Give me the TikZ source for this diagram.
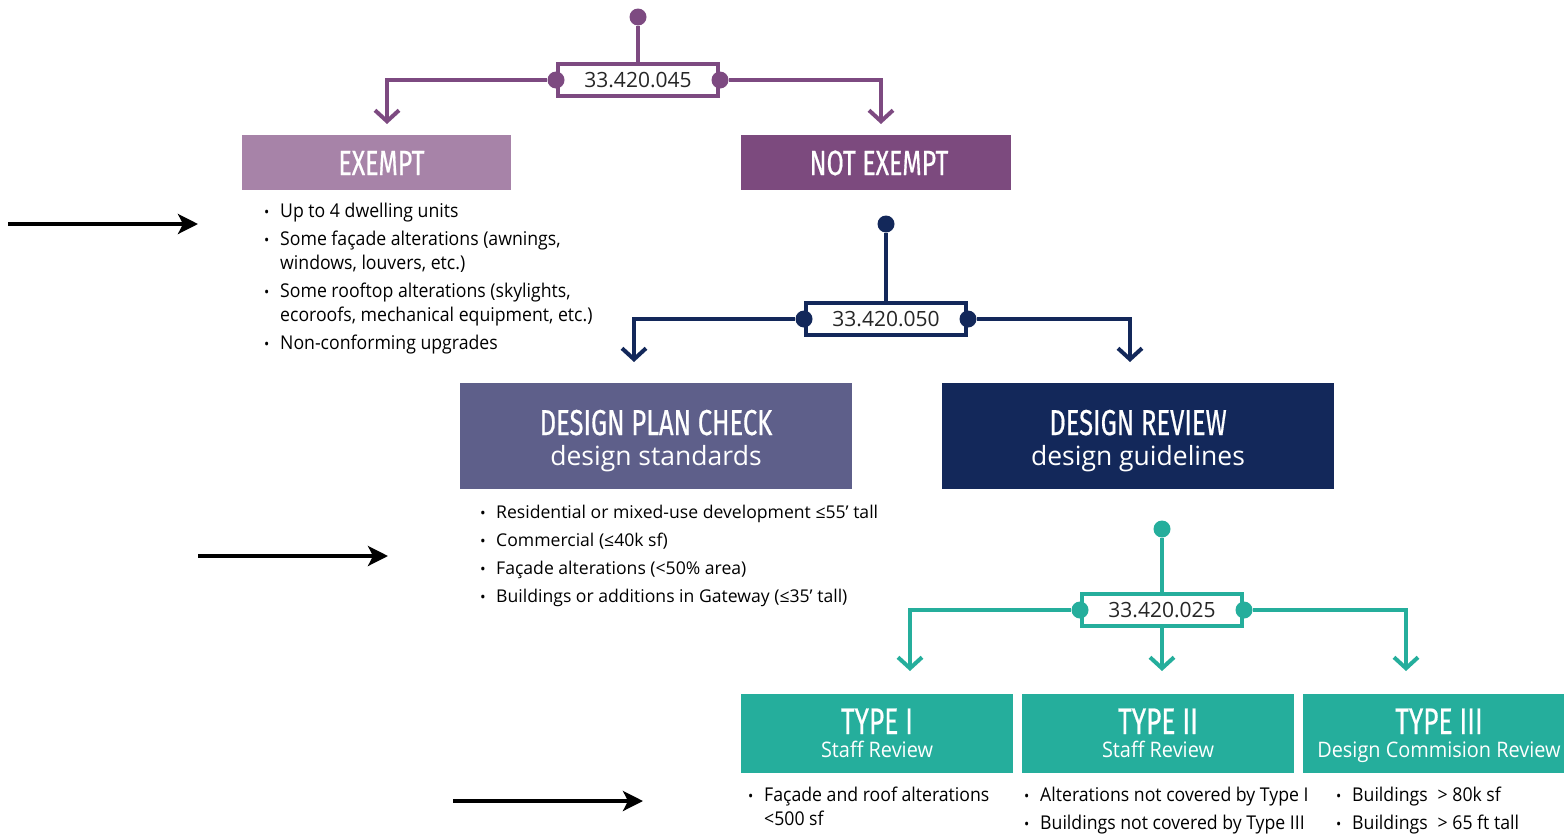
\documentclass[tikz,border=0pt]{standalone}
\usepackage{fontspec}
\setmainfont{Open Sans}
\newfontfamily\headfont[FakeStretch=0.71,FakeBold=0.5]{Fira Sans}
\newfontfamily\narrowfont[FakeStretch=0.93]{Open Sans}
\usetikzlibrary{arrows.meta,calc}
\definecolor{plum}{HTML}{7D4A81}
\definecolor{plumlight}{HTML}{A783A8}
\definecolor{plumdark}{HTML}{7C4A7E}
\definecolor{navy}{HTML}{13285A}
\definecolor{slate}{HTML}{5E5F8A}
\definecolor{teal}{HTML}{25AE9C}
\tikzstyle{code}=[draw,line width=4pt,fill=white,minimum width=160pt,minimum height=32pt,inner sep=0pt,text=black!85,font=\fontsize{21}{21}\selectfont]
\tikzstyle{dot}=[circle,fill,inner sep=0pt,minimum size=17pt]
\tikzstyle{wire}=[line width=4pt]
\tikzstyle{flow}=[line width=4pt,-{Straight Barb[length=11pt,width=24pt]}]
\tikzstyle{box}=[inner sep=0pt,draw=none]
\tikzstyle{head}=[anchor=base,inner sep=0pt,text=white,font=\headfont\fontsize{37}{37}\selectfont]
\tikzstyle{sub}=[anchor=base,inner sep=0pt,text=white,font=\fontsize{26.5}{26.5}\selectfont]
\tikzstyle{subn}=[anchor=base,inner sep=0pt,text=white,font=\narrowfont\fontsize{21.4}{21.4}\selectfont]
\tikzstyle{list}=[anchor=north west,inner sep=0pt,align=left,text=black]
\tikzstyle{pointer}=[line width=3.5pt,-{Stealth[length=20pt,width=20pt,inset=5pt]}]
\newcommand\bitem[1]{\makebox[16pt][l]{\fontsize{15}{15}\selectfont\textbullet}#1}
\newcommand\bcont[1]{\hspace*{16pt}#1}

\begin{document}
\begin{tikzpicture}[x=1pt,y=-1pt]
  \useasboundingbox (0,0) rectangle (1564,833);

  % FIRST SPLIT
  \node[dot,plum] (d1) at (638,17) {};
  \node[code,draw=plum] (c1) at (638,80) {33.420.045};
  \node[dot,plum] (c1L) at (c1.west) {};
  \node[dot,plum] (c1R) at (c1.east) {};
  \coordinate (exIn) at (387,124);
  \coordinate (neIn) at (881,124);
  \draw[wire,plum] (d1) -- (c1);
  \draw[flow,plum] (c1L) -| (exIn);
  \draw[flow,plum] (c1R) -| (neIn);

  \node[box,fill=plumlight,minimum width=269pt,minimum height=55pt] (ex) at (376.5,162.5) {};
  \node[box,fill=plumdark,minimum width=270pt,minimum height=55pt] (ne) at (876,162.5) {};
  \node[head,font=\headfont\fontsize{35}{35}\selectfont] at ($(ex)+(5,12.5)$) {EXEMPT};
  \node[head,font=\headfont\fontsize{35}{35}\selectfont] at ($(ne)+(3,12.5)$) {NOT EXEMPT};

  \node[list,font=\narrowfont\fontsize{19}{24}\selectfont] (exList) at (264,203) {%
    \bitem{Up to 4 dwelling units}\\[4pt]
    \bitem{Some façade alterations (awnings,}\\
    \bcont{windows, louvers, etc.)}\\[4pt]
    \bitem{Some rooftop alterations (skylights,}\\
    \bcont{ecoroofs, mechanical equipment, etc.)}\\[4pt]
    \bitem{Non-conforming upgrades}};

  % SECOND SPLIT
  \node[dot,navy] (d2) at (886,224) {};
  \node[code,draw=navy] (c2) at (886,319) {33.420.050};
  \node[dot,navy] (c2L) at (c2.west) {};
  \node[dot,navy] (c2R) at (c2.east) {};
  \coordinate (dpcIn) at (634,362);
  \coordinate (drIn) at (1130,362);
  \draw[wire,navy] (d2) -- (c2);
  \draw[flow,navy] (c2L) -| (dpcIn);
  \draw[flow,navy] (c2R) -| (drIn);

  \node[box,fill=slate,minimum width=392pt,minimum height=106pt] (dpc) at (656,436) {};
  \node[box,fill=navy,minimum width=392pt,minimum height=106pt] (dr) at (1138,436) {};
  \node[head,font=\headfont\fontsize{36}{36}\selectfont] at ($(dpc)+(0,-1)$) {DESIGN PLAN CHECK};
  \node[sub] at ($(dpc)+(0,29)$) {design standards};
  \node[head,font=\headfont\fontsize{36}{36}\selectfont] at ($(dr)+(0,-1)$) {DESIGN REVIEW};
  \node[sub] at ($(dr)+(0,29)$) {design guidelines};

  \node[list,font=\fontsize{17.6}{28}\selectfont] (dpcList) at (480,505) {%
    \bitem{Residential or mixed-use development ≤55’ tall}\\
    \bitem{Commercial (≤40k sf)}\\
    \bitem{Façade alterations (<50\% area)}\\
    \bitem{Buildings or additions in Gateway (≤35’ tall)}};

  % THIRD SPLIT
  \node[dot,teal] (d3) at (1162,529) {};
  \node[code,draw=teal] (c3) at (1162,610) {33.420.025};
  \node[dot,teal] (c3L) at (c3.west) {};
  \node[dot,teal] (c3R) at (c3.east) {};
  \coordinate (t1In) at (910,671);
  \coordinate (t2In) at (1162,671);
  \coordinate (t3In) at (1406,671);
  \draw[wire,teal] (d3) -- (c3);
  \draw[flow,teal] (c3L) -| (t1In);
  \draw[flow,teal] (c3) -- (t2In);
  \draw[flow,teal] (c3R) -| (t3In);

  \foreach \n/\x/\t/\s in {t1/877/TYPE I/Staff Review,t2/1158/TYPE II/Staff Review,t3/1439/TYPE III/Design Commision Review}{
    \node[box,fill=teal,minimum width=272pt,minimum height=79pt] (\n) at (\x,733.5) {};
    \node[head] at ($(\n)+(0,0.5)$) {\t};
    \node[subn] at ($(\n)+(0,24)$) {\s};
  }

  \node[list,font=\narrowfont\fontsize{19}{24}\selectfont] (t1List) at (748,787) {%
    \bitem{Façade and roof alterations}\\
    \bcont{<500 sf}};
  \node[list,font=\narrowfont\fontsize{19}{28}\selectfont] (t2List) at (1024,787) {%
    \bitem{Alterations not covered by Type I}\\
    \bitem{Buildings not covered by Type III}};
  \node[list,font=\narrowfont\fontsize{19}{28}\selectfont] (t3List) at (1336,787) {%
    \bitem{Buildings\hspace{10pt}> 80k sf}\\
    \bitem{Buildings\hspace{10pt}> 65 ft tall}};

  % POINTERS
  \coordinate (p1s) at (8,224);   \coordinate (p1e) at (198,224);
  \coordinate (p2s) at (198,556); \coordinate (p2e) at (388,556);
  \coordinate (p3s) at (453,801); \coordinate (p3e) at (643,801);
  \draw[pointer] (p1s) -- (p1e);
  \draw[pointer] (p2s) -- (p2e);
  \draw[pointer] (p3s) -- (p3e);
\end{tikzpicture}
\end{document}
